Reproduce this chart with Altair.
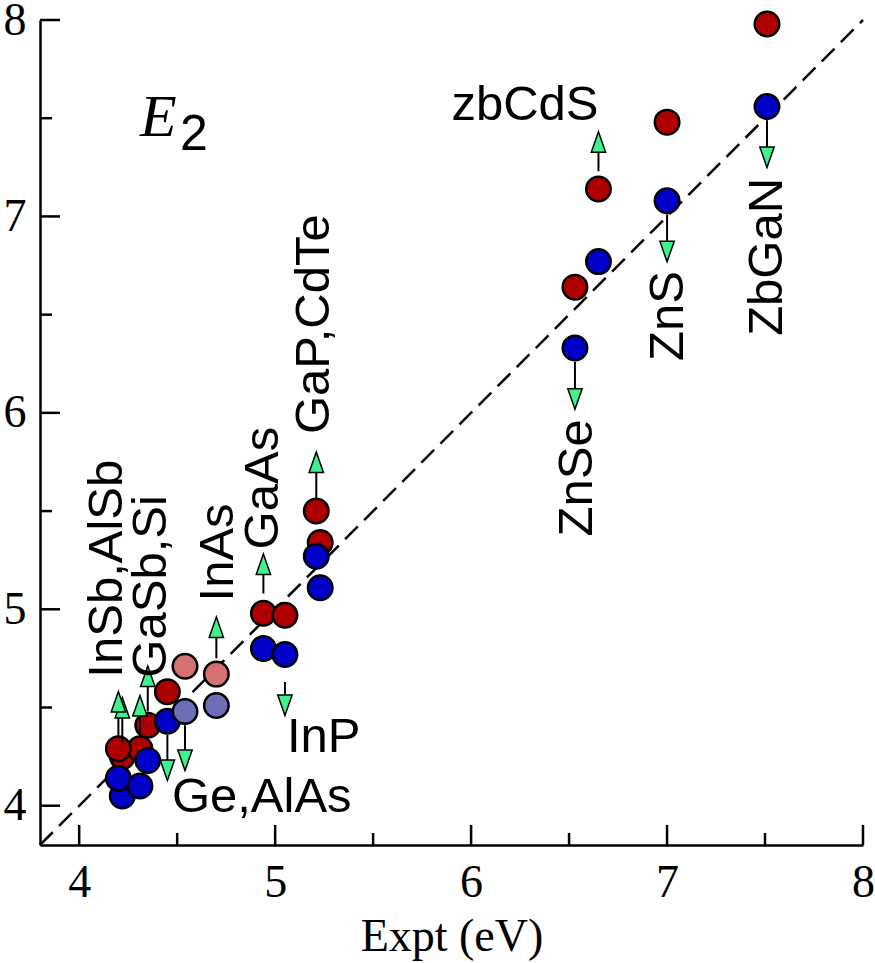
import altair as alt
import pandas as pd

# Experimental E2 energies (eV) against two calculated values per compound
expt_red = [7.51, 7.00, 6.65, 6.53, 5.21, 5.23, 4.94, 5.05,
            4.22, 4.31, 4.20, 4.35, 4.45, 4.54, 4.70]
calc_red = [7.98, 7.48, 7.14, 6.64, 5.50, 5.34, 4.98, 4.97,
            4.25, 4.29, 4.29, 4.41, 4.58, 4.71, 4.67]
tone_red = ["dark"] * 13 + ["light"] * 2

expt_blue = [7.51, 7.00, 6.65, 6.53, 5.21, 5.23, 4.94, 5.05,
             4.22, 4.20, 4.31, 4.35, 4.45, 4.54, 4.70]
calc_blue = [7.56, 7.08, 6.77, 6.33, 5.27, 5.11, 4.80, 4.77,
             4.05, 4.14, 4.10, 4.23, 4.43, 4.48, 4.51]
tone_blue = ["dark"] * 13 + ["light"] * 2

# Shift arrows: x, start (tail) and end (tip) in eV
up_x = [6.65, 5.21, 4.94, 4.70, 4.35, 4.31, 4.22, 4.20]
up_tail = [7.23, 5.56, 5.08, 4.75, 4.48, 4.35, 4.32, 4.35]
up_tip = [7.43, 5.80, 5.28, 4.96, 4.71, 4.56, 4.55, 4.58]
down_x = [7.51, 7.00, 6.53, 5.05, 4.45, 4.54]
down_tail = [7.49, 7.01, 6.26, 4.63, 4.36, 4.41]
down_tip = [7.25, 6.77, 6.02, 4.46, 4.13, 4.18]

# Compound labels
vlabels = ["InSb,AlSb", "GaSb,Si", "InAs", "GaAs", "GaP,CdTe", "ZnSe", "ZnS", "ZbGaN"]
vlabel_x = [4.218, 4.443, 4.785, 5.014, 5.274, 6.616, 7.081, 7.586]
vlabel_y = [4.652, 4.652, 5.040, 5.305, 5.892, 5.371, 6.264, 6.392]
hlabels = ["zbCdS", "Ge,AlAs", "InP"]
hlabel_x = [6.275, 4.473, 5.06]
hlabel_y = [7.489, 3.968, 4.274]
hlabel_align = ["center", "left", "left"]

major_ticks = [4, 5, 6, 7, 8]
minor_ticks = [4.5, 5.5, 6.5, 7.5]
diag = [3.8, 8.0]

LO, HI = 3.8, 8.0
MAJOR_LEN, MINOR_LEN = 0.102, 0.061
HEAD = 0.102

sx = alt.Scale(domain=[LO, HI], nice=False, zero=False)
sy = alt.Scale(domain=[LO, HI], nice=False, zero=False)

x_axis = alt.Axis(
    values=major_ticks, format="d", title="Expt (eV)", grid=False,
    ticks=False, tickSize=0, labelFont="Liberation Serif", labelFontSize=46,
    labelColor="black", labelPadding=51, labelBaseline="alphabetic",
    labelFlush=False, labelOverlap=False,
    domainColor="black", domainWidth=2.5,
    titleFont="Liberation Serif", titleFontSize=46, titleFontWeight="normal",
    titleColor="black", titleY=105, titleBaseline="alphabetic",
)
y_axis = alt.Axis(
    values=major_ticks, format="d", title=None, grid=False,
    ticks=False, tickSize=0, labelFont="Liberation Serif", labelFontSize=46,
    labelColor="black", labelPadding=14, labelFlush=False, labelOverlap=False,
    domainColor="black", domainWidth=2.5,
)

# points table, in drawing order
pts = pd.DataFrame({
    "x": expt_red + expt_blue,
    "y": calc_red + calc_blue,
    "kind": [f"red-{t}" for t in tone_red] + [f"blue-{t}" for t in tone_blue],
})
pts["order"] = range(len(pts))

colour_scale = alt.Scale(
    domain=["red-dark", "red-light", "blue-dark", "blue-light"],
    range=["#AE0000", "#D47272", "#0000C8", "#6E6EB6"],
)

diag_df = pd.DataFrame({"x": diag, "y": diag})
diag_line = alt.Chart(diag_df).mark_line(
    color="black", strokeWidth=2.5, strokeDash=[18, 9]
).encode(x=alt.X("x:Q", scale=sx, axis=x_axis), y=alt.Y("y:Q", scale=sy, axis=y_axis))

# inward tick marks
xt = pd.DataFrame({"v": major_ticks + minor_ticks,
                   "len": [MAJOR_LEN] * len(major_ticks) + [MINOR_LEN] * len(minor_ticks)})
xt["lo"] = LO
xt["hi"] = LO + xt["len"]
x_ticks = alt.Chart(xt).mark_rule(color="black", strokeWidth=2.5).encode(
    x=alt.X("v:Q", scale=sx), y=alt.Y("lo:Q", scale=sy), y2="hi:Q")
y_ticks = alt.Chart(xt).mark_rule(color="black", strokeWidth=2.5).encode(
    y=alt.Y("v:Q", scale=sy), x=alt.X("lo:Q", scale=sx), x2="hi:Q")

points = alt.Chart(pts).mark_point(
    shape="circle", filled=True, size=600, stroke="black", strokeWidth=2.5, opacity=1
).encode(
    x=alt.X("x:Q", scale=sx),
    y=alt.Y("y:Q", scale=sy),
    fill=alt.Fill("kind:N", scale=colour_scale, legend=None),
    order=alt.Order("order:Q"),
)

up = pd.DataFrame({"x": up_x, "tail": up_tail, "tip": up_tip})
up["base"] = up["tip"] - HEAD * 0.85
up["head"] = up["tip"] - HEAD / 2
down = pd.DataFrame({"x": down_x, "tail": down_tail, "tip": down_tip})
down["base"] = down["tip"] + HEAD * 0.85
down["head"] = down["tip"] + HEAD / 2

def stems(df):
    return alt.Chart(df).mark_rule(color="black", strokeWidth=2).encode(
        x=alt.X("x:Q", scale=sx), y=alt.Y("tail:Q", scale=sy), y2="base:Q")

def heads(df, path):
    return alt.Chart(df).mark_point(
        shape=path, filled=True, size=420, fill="#3EF28E", stroke="black",
        strokeWidth=1.5, opacity=1
    ).encode(x=alt.X("x:Q", scale=sx), y=alt.Y("head:Q", scale=sy))

up_stems = stems(up)
down_stems = stems(down)
up_heads = heads(up, "M0,-1L0.7,1L-0.7,1Z")
down_heads = heads(down, "M0,1L0.7,-1L-0.7,-1Z")

vdf = pd.DataFrame({"t": vlabels, "x": vlabel_x, "y": vlabel_y})
vtext = alt.Chart(vdf).mark_text(
    angle=270, align="left", baseline="alphabetic", font="Liberation Sans",
    fontSize=49, color="black"
).encode(x=alt.X("x:Q", scale=sx), y=alt.Y("y:Q", scale=sy), text="t:N")

hdf = pd.DataFrame({"t": hlabels, "x": hlabel_x, "y": hlabel_y, "a": hlabel_align})
htext_layers = []
for a in ["center", "left"]:
    sub = hdf[hdf["a"] == a]
    htext_layers.append(
        alt.Chart(sub).mark_text(
            align=a, baseline="alphabetic", font="Liberation Sans",
            fontSize=49, color="black"
        ).encode(x=alt.X("x:Q", scale=sx), y=alt.Y("y:Q", scale=sy), text="t:N")
    )

# panel label E_2
e_df = pd.DataFrame({"t": ["E"], "x": [4.31], "y": [7.407]})
e_text = alt.Chart(e_df).mark_text(
    align="left", baseline="alphabetic", font="Liberation Serif",
    fontStyle="italic", fontSize=60, color="black"
).encode(x=alt.X("x:Q", scale=sx), y=alt.Y("y:Q", scale=sy), text="t:N")
sub_df = pd.DataFrame({"t": ["2"], "x": [4.514], "y": [7.336]})
sub_text = alt.Chart(sub_df).mark_text(
    align="left", baseline="alphabetic", font="Liberation Sans",
    fontSize=50, color="black"
).encode(x=alt.X("x:Q", scale=sx), y=alt.Y("y:Q", scale=sy), text="t:N")

chart = alt.layer(
    diag_line, x_ticks, y_ticks, points,
    up_stems, down_stems, up_heads, down_heads,
    vtext, *htext_layers, e_text, sub_text,
).properties(
    width=823, height=825,
    padding={"left": 40, "top": 20, "right": 12, "bottom": 118},
    autosize=alt.AutoSizeParams(type="none"),
    background="white",
).configure_view(strokeWidth=0)

chart.save("out.html", embed_options={"renderer": "svg", "actions": False})
